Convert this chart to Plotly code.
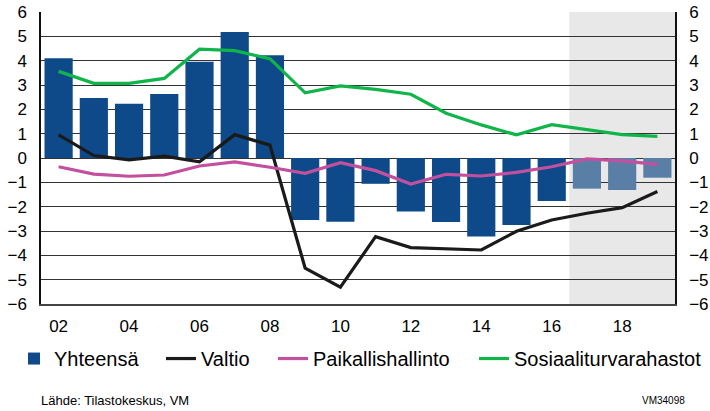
import plotly.graph_objects as go

years = list(range(2002, 2020))
yhteensa = [4.1, 2.47, 2.23, 2.63, 3.96, 5.18, 4.22, -2.55, -2.62, -1.06, -2.2, -2.63,
            -3.23, -2.75, -1.77, -1.26, -1.32, -0.81]
valtio = [0.95, 0.1, -0.08, 0.08, -0.16, 0.96, 0.53, -4.53, -5.31, -3.23, -3.68, -3.72,
          -3.78, -3.01, -2.55, -2.27, -2.04, -1.38]
paikallis = [-0.36, -0.66, -0.75, -0.7, -0.33, -0.16, -0.38, -0.63, -0.19, -0.52, -1.07,
             -0.67, -0.74, -0.59, -0.36, -0.04, -0.12, -0.26]
sosiaali = [3.56, 3.07, 3.07, 3.27, 4.47, 4.41, 4.08, 2.68, 2.96, 2.82, 2.62, 1.84, 1.36,
            0.95, 1.37, 1.15, 0.96, 0.89]
forecast_start = 2017
xtick_vals = list(range(2002, 2020, 2))
xtick_text = ["02", "04", "06", "08", "10", "12", "14", "16", "18"]
ytick_vals = list(range(-6, 7))

bar_colors = ["#0e4a89" if y < forecast_start else "#5a7fa6" for y in years]

fig = go.Figure()
fig.add_trace(go.Bar(x=years, y=yhteensa, name="Yhteensä", legend="legend",
                     marker=dict(color=bar_colors, line=dict(width=0))))
fig.add_trace(go.Scatter(x=years, y=valtio, name="Valtio", mode="lines", legend="legend2",
                         line=dict(color="#1a1a1a", width=3.2)))
fig.add_trace(go.Scatter(x=years, y=paikallis, name="Paikallishallinto", mode="lines", legend="legend3",
                         line=dict(color="#c2509e", width=3.2)))
fig.add_trace(go.Scatter(x=years, y=sosiaali, name="Sosiaaliturvarahastot", mode="lines", legend="legend4",
                         line=dict(color="#10b54a", width=3.2)))
fig.add_trace(go.Scatter(x=[years[0]], y=[0], yaxis="y2", showlegend=False,
                         mode="markers", marker=dict(opacity=0), hoverinfo="skip"))

fig.add_shape(type="rect", xref="x", yref="y", x0=forecast_start - 0.5, x1=years[-1] + 0.5,
              y0=-6, y1=6, fillcolor="#e8e8e8", line=dict(width=0), layer="below")

font = "Liberation Sans, Arial, sans-serif"
axis_common = dict(range=[-6, 6], tickvals=ytick_vals, automargin=False,
                   tickfont=dict(size=17, color="#000", family=font))


def leg(x):
    return dict(orientation="h", x=x, xanchor="left", y=-0.12, yanchor="top",
                font=dict(size=20, family=font, color="#000"),
                itemwidth=30, bgcolor="rgba(0,0,0,0)")


fig.update_layout(
    width=710, height=411,
    margin=dict(l=41, r=35, t=12, b=107, autoexpand=False),
    paper_bgcolor="white", plot_bgcolor="white",
    bargap=0.2,
    showlegend=True,
    font=dict(family=font, color="#000"),
    xaxis=dict(range=[2001.5, 2019.5], tickvals=xtick_vals, ticktext=xtick_text, automargin=False,
               tickfont=dict(size=17, color="#000", family=font), showgrid=False,
               showline=True, linecolor="#444", linewidth=1.5, ticks="outside",
               ticklen=6, tickcolor="rgba(0,0,0,0)", zeroline=False),
    yaxis=dict(**axis_common, showgrid=True, gridcolor="#333", gridwidth=1,
               zeroline=True, zerolinecolor="#333", zerolinewidth=1,
               showline=True, linecolor="#111", linewidth=1.5,
               ticks="outside", ticklen=9, tickcolor="rgba(0,0,0,0)"),
    yaxis2=dict(**axis_common, overlaying="y", side="right", showgrid=False, zeroline=False,
                showline=True, linecolor="#111", linewidth=1.5,
                ticks="outside", ticklen=9, tickcolor="rgba(0,0,0,0)"),
    legend=leg(-0.0426),
    legend2=leg(0.1893),
    legend3=leg(0.3659),
    legend4=leg(0.6830),
)
fig.add_annotation(text="Lähde: Tilastokeskus, VM", xref="paper", yref="paper",
                   x=-0.003, xanchor="left", y=-0.332, yanchor="middle", showarrow=False,
                   font=dict(size=13, family=font, color="#000"))
fig.add_annotation(text="VM34098", xref="paper", yref="paper",
                   x=1.019, xanchor="right", y=-0.332, yanchor="middle", showarrow=False,
                   font=dict(size=10, family=font, color="#000"))
fig.write_html("out.html", config={"displayModeBar": False},
               post_script="document.body.style.margin='0px';")
